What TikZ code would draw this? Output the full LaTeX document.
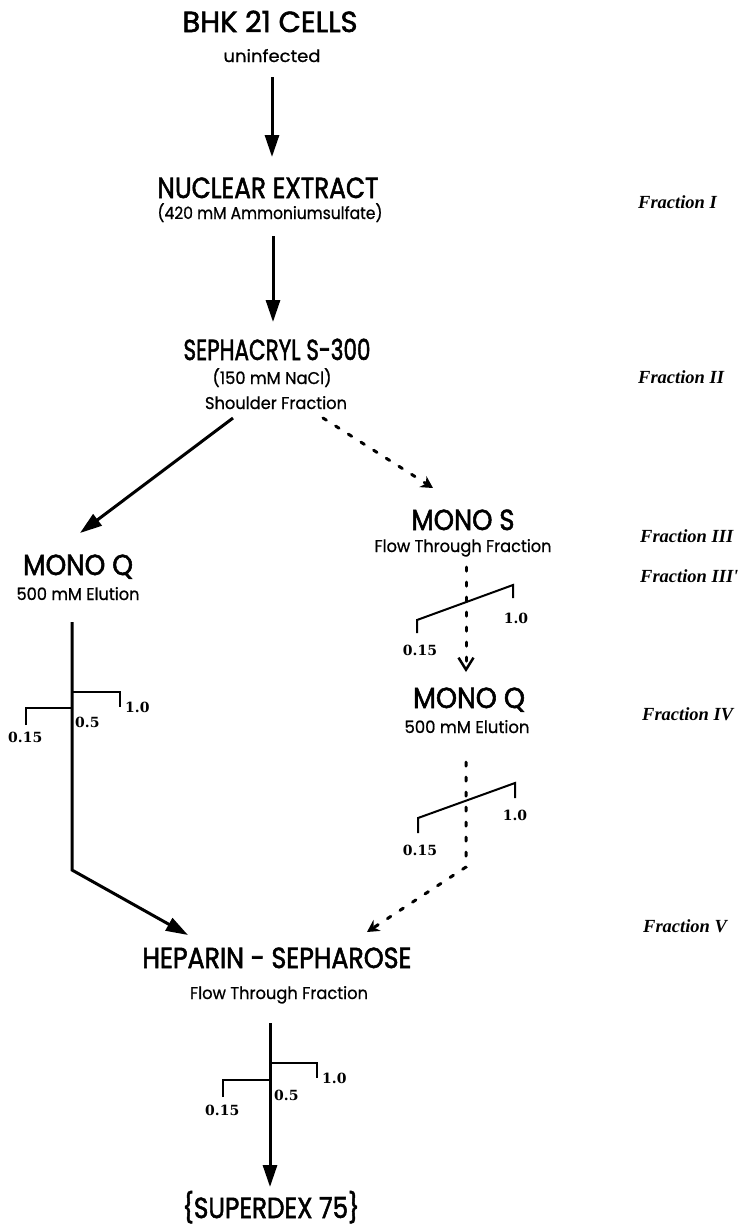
\documentclass[tikz,border=0pt]{standalone}
\usepackage{fontspec}
\usepackage{graphicx}
\usetikzlibrary{arrows.meta}
\newfontfamily\hdfont[FakeBold=2]{Poppins}
\newfontfamily\sbfont[FakeBold=0.8]{Poppins}
\newfontfamily\numfont{DejaVu Serif}
\newfontfamily\frfont{Liberation Serif}
\newcommand\fw[2]{\resizebox{#1pt}{\height}{#2}}
\tikzset{
  hd/.style={font=\hdfont\fontsize{29}{31}\selectfont, inner sep=0pt, anchor=base},
  sub/.style={font=\sbfont\fontsize{17}{19}\selectfont, inner sep=0pt, anchor=base},
  num/.style={font=\numfont\bfseries\fontsize{14}{16}\selectfont, inner sep=0pt, anchor=base west},
  frac/.style={font=\frfont\bfseries\itshape\fontsize{18.5}{20}\selectfont, inner sep=0pt, anchor=base west},
  arr/.style={line width=3pt, -{Triangle[width=14pt,length=22pt]}},
  dotline/.style={line width=3pt, line cap=round, dash pattern=on 4pt off 11pt},
  grad/.style={line width=2pt}
}
\begin{document}
\begin{tikzpicture}[x=1pt,y=-1pt]
\path[use as bounding box, fill=white] (0,0) rectangle (740,1227);
% main texts
\node[hd] (bhk) at (270,32) {\fw{175}{BHK 21 CELLS}};
\node[sub] (uninf) at (272,62) {\fw{97}{uninfected}};
\node[hd] (nuc) at (268,198) {\fw{221}{NUCLEAR EXTRACT}};
\node[sub] (amm) at (270,219) {\fw{225}{(420 mM Ammoniumsulfate)}};
\node[hd] (seph) at (277,360) {\fw{187}{SEPHACRYL S-300}};
\node[sub] (nacl) at (272,384) {\fw{119}{(150 mM NaCl)}};
\node[sub] (shoul) at (276,409) {\fw{142}{Shoulder Fraction}};
\node[hd] (monoql) at (78,575) {\fw{110}{MONO Q}};
\node[sub] (elul) at (78,600) {\fw{123}{500 mM Elution}};
\node[hd] (monos) at (463,530) {\fw{103}{MONO S}};
\node[sub] (flows) at (463,552) {\fw{177}{Flow Through Fraction}};
\node[hd] (monoqr) at (469,708) {\fw{112}{MONO Q}};
\node[sub] (elur) at (467,733) {\fw{125}{500 mM Elution}};
\node[hd] (hep) at (277,968) {\fw{269}{HEPARIN - SEPHAROSE}};
\node[sub] (flowh) at (279,999) {\fw{178}{Flow Through Fraction}};
\node[hd] (sup) at (271,1218) {\fw{177}{\{SUPERDEX 75\}}};
% fraction labels
\node[frac] (f1) at (638,208) {Fraction I};
\node[frac] (f2) at (638,383) {Fraction II};
\node[frac] (f3) at (640,542) {Fraction III};
\node[frac] (f3p) at (640,582) {Fraction III'};
\node[frac] (f4) at (642,720) {Fraction IV};
\node[frac] (f5) at (643,932) {Fraction V};
% connector end points
\coordinate (a1s) at (272,77);  \coordinate (a1e) at (272,157);
\coordinate (a2s) at (273,236); \coordinate (a2e) at (273,322);
\coordinate (a3s) at (233,418); \coordinate (a3e) at (80,533);
\coordinate (a4s) at (323,418); \coordinate (a4e) at (433,488);
\coordinate (a5s) at (466,567); \coordinate (a5e) at (466,672);
\coordinate (l1) at (72,622); \coordinate (l2) at (72,870); \coordinate (l3) at (188,935);
\coordinate (r1) at (466,762); \coordinate (r2) at (466,867); \coordinate (r3) at (367,932);
\coordinate (a6s) at (270,1023); \coordinate (a6e) at (270,1187);
% arrows
\draw[arr] (a1s) -- (a1e);
\draw[arr] (a2s) -- (a2e);
\draw[arr] (a3s) -- (a3e);
\draw[dotline, -{Stealth[width=13pt,length=12pt]}] (a4s) -- (a4e);
\draw[dotline, -{Straight Barb[width=15pt,length=12pt,line width=2.5pt]}] (a5s) -- (a5e);
\draw[arr] (l1) -- (l2) -- (l3);
\draw[dotline, -{Stealth[width=13pt,length=12pt]}] (r1) -- (r2) -- (r3);
\draw[arr] (a6s) -- (a6e);
% step gradient left
\draw[grad] (26,725) -- (26,708) -- (72,708);
\draw[grad] (72,692) -- (120,692) -- (120,707);
\node[num] (gl1) at (125,712) {1.0};
\node[num] (gl2) at (75,727) {0.5};
\node[num] (gl3) at (8,742) {0.15};
% linear gradient right 1
\draw[grad] (417,633) -- (417,620) -- (513,585) -- (513,598);
\node[num, anchor=base] (gr1a) at (420,655) {0.15};
\node[num, anchor=base] (gr1b) at (516,623) {1.0};
% linear gradient right 2
\draw[grad] (418,833) -- (418,818) -- (515,783) -- (515,798);
\node[num, anchor=base] (gr2a) at (420,855) {0.15};
\node[num, anchor=base] (gr2b) at (515,820) {1.0};
% step gradient bottom
\draw[grad] (223,1097) -- (223,1080) -- (270,1080);
\draw[grad] (270,1063) -- (317,1063) -- (317,1078);
\node[num] (gb1) at (322,1083) {1.0};
\node[num] (gb2) at (274,1100) {0.5};
\node[num] (gb3) at (205,1115) {0.15};
\end{tikzpicture}
\end{document}
